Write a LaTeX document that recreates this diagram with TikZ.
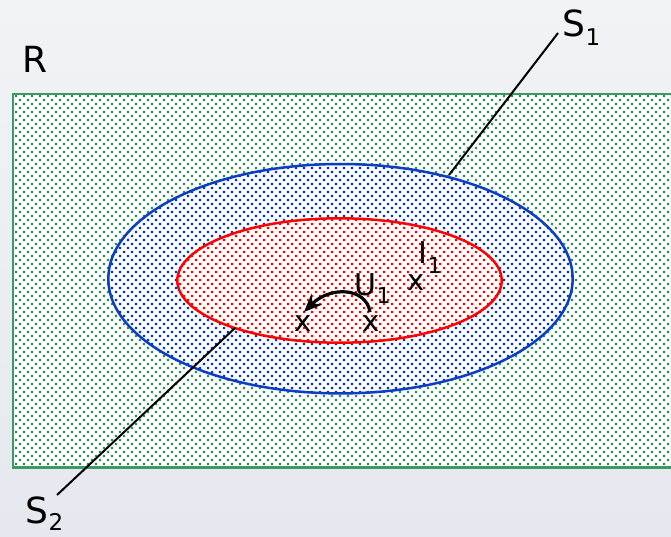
\documentclass[tikz,border=0pt]{standalone}
\usepackage{fontspec}
\setmainfont{DejaVu Sans}
\usetikzlibrary{patterns,arrows.meta}
\pgfdeclarepatternformonly{mydots}{\pgfqpoint{-1.5pt}{-1.5pt}}{\pgfqpoint{9.5pt}{9.5pt}}{\pgfqpoint{8pt}{8pt}}{%
  \pgfpathrectangle{\pgfqpoint{-1.1pt}{-1.1pt}}{\pgfqpoint{2.2pt}{2.2pt}}%
  \pgfpathrectangle{\pgfqpoint{2.9pt}{2.9pt}}{\pgfqpoint{2.2pt}{2.2pt}}%
  \pgfusepath{fill}}
\definecolor{bgtop}{HTML}{F2F3F6}
\definecolor{bgbot}{HTML}{E5E8EE}
\definecolor{rgreen}{HTML}{3A9A64}
\definecolor{dgreen}{HTML}{2E8B57}
\definecolor{eblue}{HTML}{0A3FC4}
\definecolor{dblue}{HTML}{0033CC}
\definecolor{ered}{HTML}{FF0000}
\tikzset{
  bigfont/.style={font=\fontsize{36}{40}\selectfont},
  midfont/.style={font=\fontsize{30}{34}\selectfont},
  lbl/.style={inner sep=0pt, anchor=base west},
  xmark/.style={inner sep=0pt, anchor=center, font=\fontsize{29}{32}\selectfont},
  leader/.style={draw=black, line width=2pt},
}
\begin{document}
\begin{tikzpicture}[x=1pt,y=-1pt]
\useasboundingbox (0,0) rectangle (671,536);
\clip (0,0) rectangle (671,536);
\shade[top color=bgtop, bottom color=bgbot] (0,0) rectangle (671,536);
% region R
\fill[white] (13,94) rectangle (680,467.3);
\fill[pattern=mydots, pattern color=dgreen] (13,94) rectangle (680,467.3);
\draw[rgreen, line width=2.5pt] (13,94) rectangle (680,467.3);
% S1 ellipse (blue)
\fill[white] (340.5,278.7) ellipse [x radius=232.2pt, y radius=114.7pt];
\fill[pattern=mydots, pattern color=dblue] (340.5,278.7) ellipse [x radius=232.2pt, y radius=114.7pt];
\draw[eblue, line width=2.5pt] (340.5,278.7) ellipse [x radius=232.2pt, y radius=114.7pt];
% I1 ellipse (red)
\fill[white] (339.5,280.5) ellipse [x radius=162.2pt, y radius=62.2pt];
\fill[pattern=mydots, pattern color=ered] (339.5,280.5) ellipse [x radius=162.2pt, y radius=62.2pt];
\draw[ered, line width=2.5pt] (339.5,280.5) ellipse [x radius=162.2pt, y radius=62.2pt];
% labels
\node[lbl, bigfont] (R) at (22,72.7) {R};
\node[lbl, bigfont] (S1) at (562.5,36.7) {S\raisebox{-8.3pt}{\fontsize{23}{25}\selectfont 1}};
\node[lbl, bigfont] (S2) at (25.5,523) {S\raisebox{-7.5pt}{\fontsize{23}{25}\selectfont 2}};
\node[lbl, midfont] (U1) at (354.5,295) {U\raisebox{-8pt}{\fontsize{22}{24}\selectfont 1}};
\node[lbl, midfont] (I1) at (418.5,263) {I\raisebox{-10pt}{\fontsize{22}{24}\selectfont 1}};
\node[xmark] (xa) at (303.5,323.5) {x};
\node[xmark] (xb) at (371,324) {x};
\node[xmark] (xc) at (416,282.5) {x};
% leaders
\coordinate (s1end) at (558,33);
\coordinate (s1on) at (449,175);
\coordinate (s2end) at (57,495);
\coordinate (s2on) at (235,328);
\draw[leader] (s1end) -- (s1on);
\draw[leader] (s2end) -- (s2on);
% U1 arrow
\coordinate (ustart) at (370,312);
\coordinate (uend) at (304,312);
\draw[black, line width=3.2pt, -{Stealth[length=18pt,width=15pt]}] (ustart) .. controls (366,287) and (330,286) .. (uend);
\end{tikzpicture}
\end{document}
